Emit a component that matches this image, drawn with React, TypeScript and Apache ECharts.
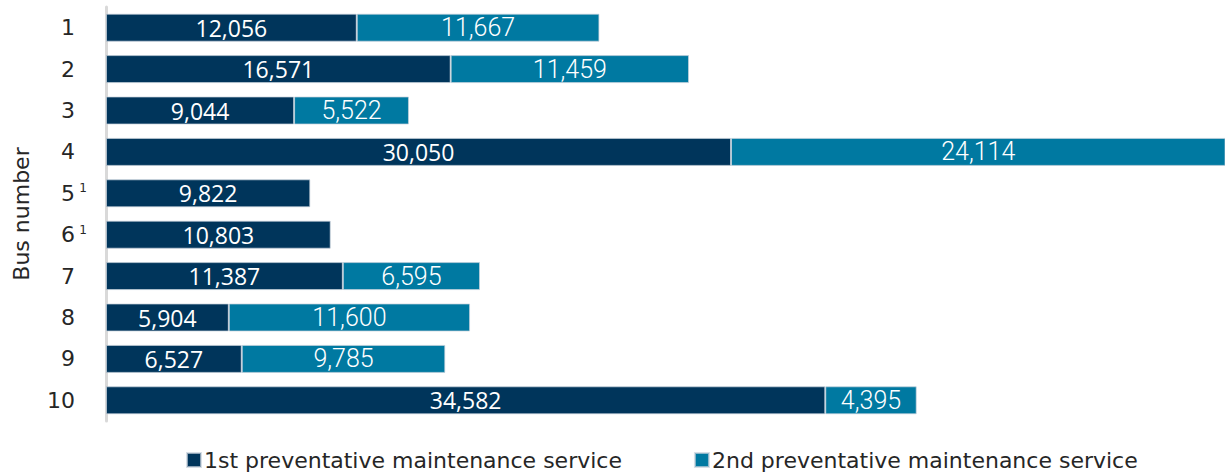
import React, { useEffect, useRef } from "react";
import * as echarts from "echarts";

const categories = ["1", "2", "3", "4", "5", "6", "7", "8", "9", "10"];
const footnoted = ["5", "6"];
const firstService = [12056, 16571, 9044, 30050, 9822, 10803, 11387, 5904, 6527, 34582];
const secondService = [11667, 11459, 5522, 24114, null, null, 6595, 11600, 9785, 4395];
const seriesNames = ["1st preventative maintenance service", "2nd preventative maintenance service"];

const fmt = (v: number) => v.toLocaleString("en-US");
const FONT = "DejaVu Sans";

export default function App() {
  const ref = useRef<HTMLDivElement>(null);
  useEffect(() => {
    const chart = echarts.init(ref.current!, null, { renderer: "svg" });
    chart.setOption({
      animation: false,
      grid: { left: 106, right: 0, top: 7, height: 414 },
      xAxis: {
        type: "value",
        min: 0,
        max: 53800,
        show: false,
      },
      yAxis: {
        type: "category",
        data: categories,
        inverse: true,
        name: "Bus number",
        nameLocation: "middle",
        nameGap: 74,
        nameTextStyle: { fontFamily: FONT, fontSize: 22, color: "#262626" },
        axisLine: { show: true, lineStyle: { color: "#d9d9d9", width: 3 } },
        axisTick: { show: false },
        axisLabel: {
          margin: 19,
          formatter: (v: string) => `{n|${v}}{s|${footnoted.includes(v) ? "1" : ""}}`,
          rich: {
            n: { fontFamily: FONT, fontSize: 22, color: "#262626" },
            s: { fontFamily: FONT, fontSize: 12, color: "#262626", width: 12, align: "right", verticalAlign: "top", padding: [0, 0, 10, 0] },
          },
        },
      },
      legend: {
        bottom: -3,
        left: 181,
        itemWidth: 14,
        itemHeight: 14,
        itemGap: 72,
        icon: "rect",
        textStyle: { fontFamily: FONT, fontSize: 22, color: "#262626", padding: [0, 0, 0, -2] },
        data: seriesNames,
      },
      series: [
        {
          name: seriesNames[0],
          type: "bar",
          stack: "total",
          data: firstService,
          barWidth: 28,
          clip: true,
          itemStyle: { color: "#00355B", borderColor: "rgba(200,210,220,0.7)", borderWidth: 1 },
          label: {
            show: true,
            position: "inside",
            color: "#ffffff",
            fontFamily: "Open Sans",
            fontSize: 23,
            formatter: (p: any) => fmt(p.value),
          },
        },
        {
          name: seriesNames[1],
          type: "bar",
          stack: "total",
          data: secondService,
          barWidth: 28,
          clip: true,
          itemStyle: { color: "#0079A1", borderColor: "rgba(200,210,220,0.7)", borderWidth: 1 },
          label: {
            show: true,
            position: "inside",
            color: "#ffffff",
            fontFamily: "Roboto",
            fontWeight: 300,
            fontSize: 25,
            formatter: (p: any) => (p.value == null ? "" : fmt(p.value)),
          },
        },
      ],
    });
    return () => chart.dispose();
  }, []);
  return (
    <div
      ref={ref}
      style={{ position: "fixed", left: 0, top: 0, width: 1225, height: 473, background: "#fff" }}
    />
  );
}
